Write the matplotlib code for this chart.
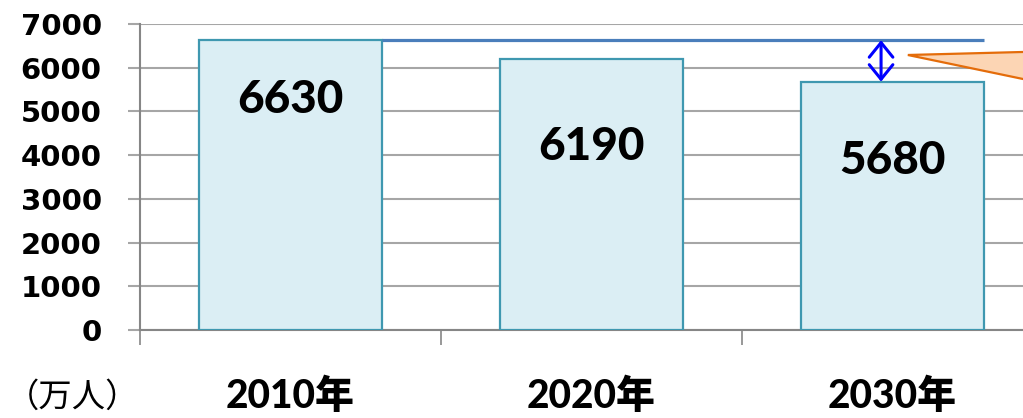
import matplotlib
matplotlib.use("Agg")
import matplotlib.pyplot as plt
from matplotlib.patches import FancyArrowPatch, Polygon
import numpy as np

# Population (10,000 persons) by year
years = ["2010年", "2020年", "2030年"]
population = [6630, 6190, 5680]
label_y = [5262, 4188, 3866]   # vertical placement of the value labels
unit_label = "（万人）"
y_ticks = [0, 1000, 2000, 3000, 4000, 5000, 6000, 7000]

grid_gray = "#a6a6a6"
axis_gray = "#868686"
bar_fill = "#dbeef4"
bar_edge = "#3f98b0"

fig = plt.figure(figsize=(10.23, 4.18), dpi=100)
ax = fig.add_axes([140 / 1023, 88 / 418, 903 / 1023, 306 / 418])

x = np.arange(len(years)) + 0.5
bar_w = 0.61
ax.bar(x, population, width=bar_w, color=bar_fill, edgecolor=bar_edge,
       linewidth=1.6, zorder=3)

for xi, v, ly in zip(x, population, label_y):
    ax.text(xi, ly, f"{v}", ha="center", va="center", fontsize=33,
            fontweight="black", family=["Lato", "DejaVu Sans"], zorder=5)

ax.set_xlim(0, len(years))
ax.set_ylim(0, 7000)

# Gridlines and axes
ax.set_yticks(y_ticks)
ax.yaxis.grid(True, color=grid_gray, linewidth=1.5, zorder=0)
ax.set_axisbelow(True)
ax.tick_params(axis="y", length=8.6, width=1.5, color=grid_gray, pad=19,
               labelsize=21)
for lab in ax.get_yticklabels():
    lab.set_fontweight("bold")
    lab.set_family("DejaVu Sans")

ax.set_xticks(np.arange(len(years) + 1))
ax.set_xticklabels([])
ax.set_xticks(x, minor=True)
ax.set_xticklabels(years, minor=True)
ax.tick_params(axis="x", which="major", length=10.5, width=1.2, color=axis_gray)
ax.tick_params(axis="x", which="minor", length=0, pad=34, labelsize=28)
for lab in ax.get_xticklabels(minor=True):
    lab.set_fontweight("black")
    lab.set_family(["Lato", "Noto Sans CJK JP"])

for side in ("top", "right"):
    ax.spines[side].set_visible(False)
for side in ("left", "bottom"):
    ax.spines[side].set_color(axis_gray)
    ax.spines[side].set_linewidth(1.5)

# Reference line at the 2010 level
ax.plot([x[0] + bar_w / 2, x[-1] + bar_w / 2], [population[0], population[0]],
        color="#4a7ebb", linewidth=2.3, zorder=4, solid_capstyle="butt")

# Gap arrow between 2010 level and 2030 bar
arrow = FancyArrowPatch((2.462, population[0]), (2.462, population[-1]),
                        arrowstyle="<->,head_length=1.05,head_width=0.85",
                        mutation_scale=10, shrinkA=0, shrinkB=0,
                        color="#0000ff", linewidth=2.2, zorder=6)
ax.add_patch(arrow)

# Callout pointer
callout = Polygon([(2.551, 6291), (3.3, 6426), (3.3, 5216)], closed=True,
                  facecolor="#fcd5b4", edgecolor="#e46c0a", linewidth=1.6,
                  clip_on=False, zorder=6)
ax.add_patch(callout)

fig.text(6 / 1023, 1 - 397 / 418, unit_label, ha="left", va="center",
         fontsize=24, family=["Noto Sans CJK JP", "DejaVu Sans"])

fig.savefig("out.png", dpi=100)
